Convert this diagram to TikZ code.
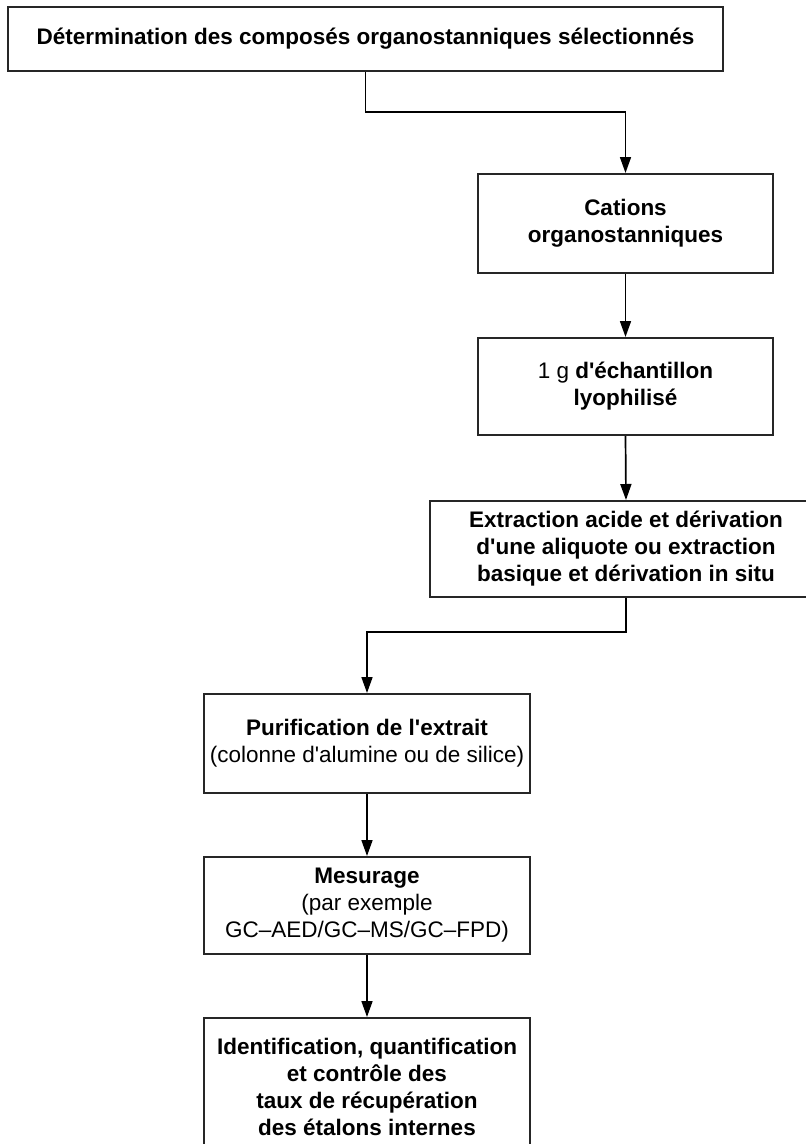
\documentclass[tikz,border=0pt]{standalone}
\usepackage{fontspec}
\setmainfont{Liberation Sans}
\usetikzlibrary{arrows.meta}
\newcommand{\ap}{\textquotesingle}
\begin{document}
\begin{tikzpicture}[x=1pt,y=-1pt,
  box/.style={draw=black!85, line width=2pt, rectangle, inner sep=0pt, align=center,
    font=\fontsize{22.5}{27}\selectfont\bfseries},
  arr/.style={draw=black, line width=1.7pt, -{Triangle[length=16pt,width=11pt]}}]
\useasboundingbox (0,0) rectangle (806,1144);
\clip (0,0) rectangle (806,1144);
\node[box, minimum width=715pt, minimum height=64pt] (b1) at (365.5,39)
  {Détermination des composés organostanniques sélectionnés};
\node[box, minimum width=295pt, minimum height=99pt] (b2) at (625.5,223.5)
  {Cations\\organostanniques};
\node[box, minimum width=295pt, minimum height=97pt] (b3) at (625.5,386.5)
  {{\mdseries 1 g} d\ap échantillon\\lyophilisé};
\node[box, minimum width=392pt, minimum height=96pt] (b4) at (626,549)
  {Extraction acide et dérivation\\d\ap une aliquote ou extraction\\basique et dérivation in situ};
\node[box, minimum width=326pt, minimum height=99pt] (b5) at (367,743.5)
  {Purification de l\ap extrait\\{\mdseries (colonne d\ap alumine ou de silice)}};
\node[box, minimum width=326pt, minimum height=97pt] (b6) at (367,905.5)
  {Mesurage\\{\mdseries (par exemple}\\{\mdseries GC–AED/GC–MS/GC–FPD)}};
\node[box, minimum width=326pt, minimum height=138pt] (b7) at (367,1087)
  {Identification, quantification\\et contrôle des\\taux de récupération\\des étalons internes};
\draw[arr] (b1.south) -- ++(0,40) -| (b2.north);
\draw[arr] (b2.south) -- (b3.north);
\draw[arr] (b3.south) -- (b4.north);
\draw[arr] (b4.south) -- ++(0,34) -| (b5.north);
\draw[arr] (b5.south) -- (b6.north);
\draw[arr] (b6.south) -- (b7.north);
\end{tikzpicture}
\end{document}
